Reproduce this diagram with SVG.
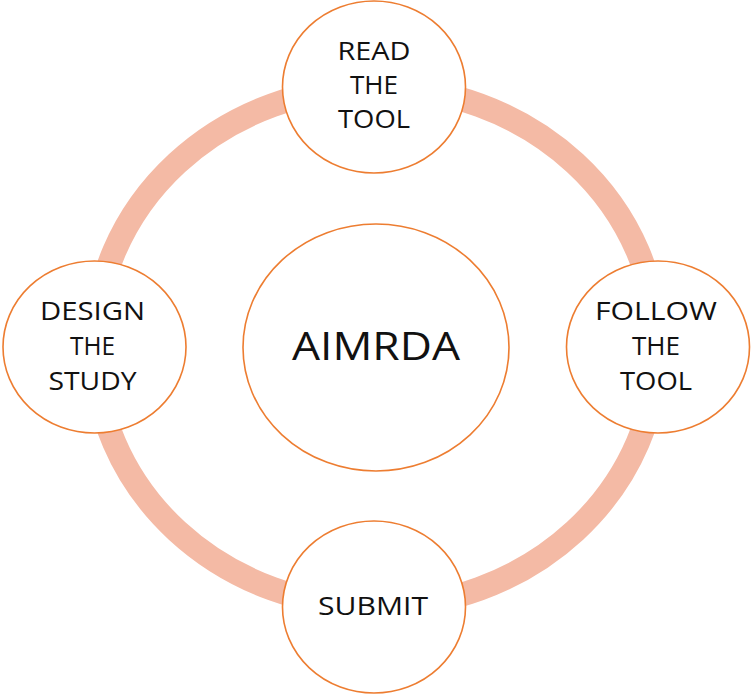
<svg xmlns="http://www.w3.org/2000/svg" width="753" height="696" viewBox="0 0 753 696">
<style>
.node{fill:#FFFFFF;stroke:#ED7D31;stroke-width:1.6}
.lbl{font-family:"Open Sans","Liberation Sans",sans-serif;font-size:25px;fill:#111111;text-anchor:middle}
.big{font-size:39px}
.ring{fill:none;stroke:#F4BAA5;stroke-width:24}
</style>
<rect width="753" height="696" fill="#FFFFFF"/>
<g id="connectors">
<ellipse class="ring" cx="376" cy="347" rx="281.5" ry="260"/>
</g>
<g id="center">
<ellipse class="node" cx="376" cy="347.5" rx="133" ry="123.5"/>
<text class="lbl big" x="376" y="360" textLength="168" lengthAdjust="spacingAndGlyphs">AIMRDA</text>
</g>
<g id="read">
<ellipse class="node" cx="374" cy="87" rx="91.5" ry="86"/>
<text class="lbl" x="374" y="60" textLength="73" lengthAdjust="spacingAndGlyphs">READ</text>
<text class="lbl" x="374" y="94" textLength="48" lengthAdjust="spacingAndGlyphs">THE</text>
<text class="lbl" x="374" y="128" textLength="72" lengthAdjust="spacingAndGlyphs">TOOL</text>
</g>
<g id="follow">
<ellipse class="node" cx="658" cy="347" rx="91.5" ry="86"/>
<text class="lbl" x="656" y="320" textLength="122" lengthAdjust="spacingAndGlyphs">FOLLOW</text>
<text class="lbl" x="656" y="355" textLength="48" lengthAdjust="spacingAndGlyphs">THE</text>
<text class="lbl" x="656" y="390" textLength="72" lengthAdjust="spacingAndGlyphs">TOOL</text>
</g>
<g id="submit">
<ellipse class="node" cx="374" cy="607" rx="91.5" ry="86"/>
<text class="lbl" x="373" y="615" textLength="110" lengthAdjust="spacingAndGlyphs">SUBMIT</text>
</g>
<g id="design">
<ellipse class="node" cx="94.5" cy="347" rx="91.5" ry="86"/>
<text class="lbl" x="92.5" y="320" textLength="105" lengthAdjust="spacingAndGlyphs">DESIGN</text>
<text class="lbl" x="92.5" y="355" textLength="45" lengthAdjust="spacingAndGlyphs">THE</text>
<text class="lbl" x="92.5" y="390" textLength="88" lengthAdjust="spacingAndGlyphs">STUDY</text>
</g>
</svg>
